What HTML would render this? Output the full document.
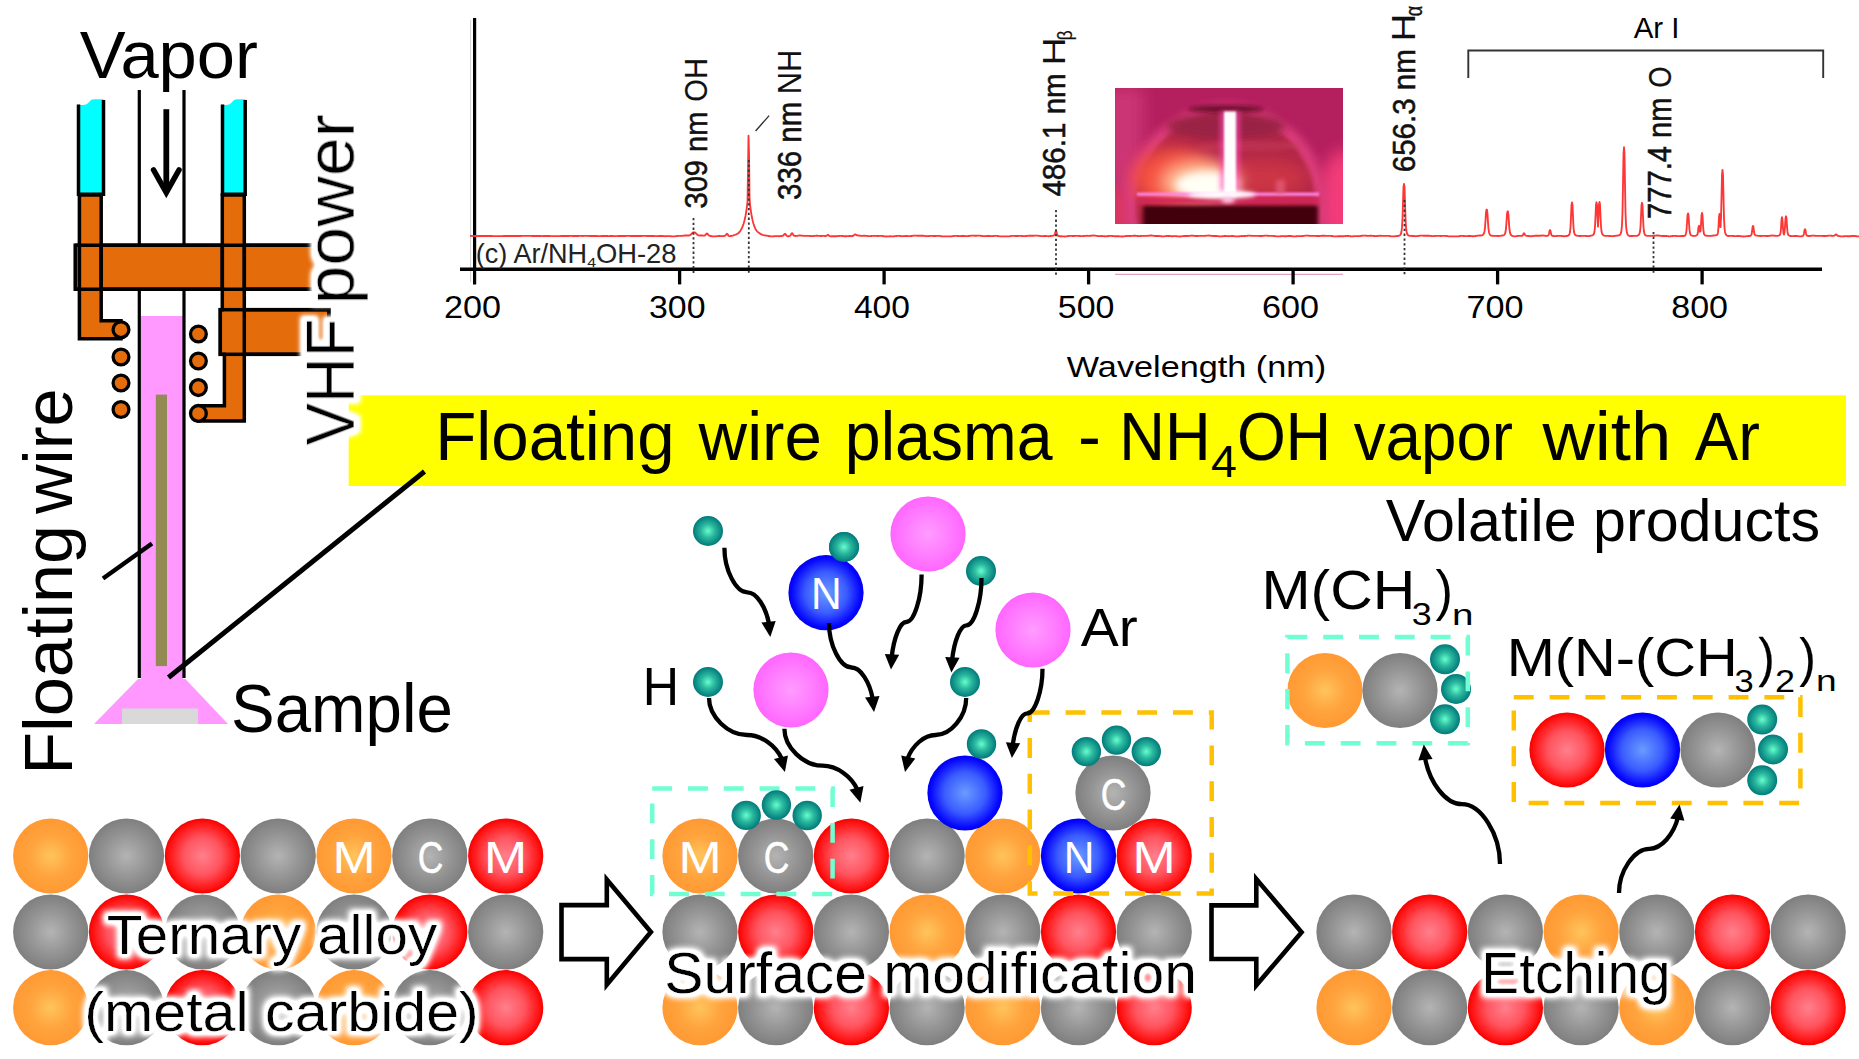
<!DOCTYPE html>
<html><head><meta charset="utf-8"><title>Floating wire plasma</title>
<style>html,body{margin:0;padding:0;background:#fff;overflow:hidden}svg{display:block}text{font-family:"Liberation Sans",sans-serif}</style>
</head><body>
<svg width="1859" height="1059" viewBox="0 0 1859 1059">
<defs>
<radialGradient id="gO"><stop offset="0" stop-color="#FFC45C"/><stop offset="0.55" stop-color="#FFA43E"/><stop offset="1" stop-color="#FF9933"/></radialGradient>
<radialGradient id="gG"><stop offset="0" stop-color="#B4B4B4"/><stop offset="0.6" stop-color="#939393"/><stop offset="1" stop-color="#7F7F7F"/></radialGradient>
<radialGradient id="gR"><stop offset="0" stop-color="#FF808C"/><stop offset="0.5" stop-color="#FF5560"/><stop offset="0.88" stop-color="#FF1414"/><stop offset="1" stop-color="#F60000"/></radialGradient>
<radialGradient id="gB"><stop offset="0" stop-color="#6A9CFF"/><stop offset="0.55" stop-color="#3A5CFF"/><stop offset="0.92" stop-color="#0606FF"/><stop offset="1" stop-color="#0000F0"/></radialGradient>
<radialGradient id="gP"><stop offset="0" stop-color="#FF9CFF"/><stop offset="0.6" stop-color="#FF7CFF"/><stop offset="1" stop-color="#FF66FF"/></radialGradient>
<radialGradient id="gT"><stop offset="0" stop-color="#66FFCC"/><stop offset="0.45" stop-color="#2BB89F"/><stop offset="1" stop-color="#007A7A"/></radialGradient>
<filter id="gl" x="-10%" y="-40%" width="120%" height="180%"><feGaussianBlur stdDeviation="2.6"/></filter>
<filter id="halo" x="-10%" y="-45%" width="120%" height="190%"><feMorphology in="SourceAlpha" operator="dilate" radius="4.2" result="d"/><feGaussianBlur in="d" stdDeviation="3.1" result="b"/><feFlood flood-color="#fff" result="w"/><feComposite in="w" in2="b" operator="in" result="h"/><feComponentTransfer in="h" result="h2"><feFuncA type="linear" slope="1.6"/></feComponentTransfer><feMerge><feMergeNode in="h2"/><feMergeNode in="SourceGraphic"/></feMerge></filter>
<filter id="halo2" x="-10%" y="-45%" width="120%" height="190%"><feMorphology in="SourceAlpha" operator="dilate" radius="5.8" result="d"/><feGaussianBlur in="d" stdDeviation="2.8" result="b"/><feFlood flood-color="#fff" result="w"/><feComposite in="w" in2="b" operator="in" result="h"/><feComponentTransfer in="h" result="h2"><feFuncA type="linear" slope="1.6"/></feComponentTransfer><feMerge><feMergeNode in="h2"/><feMergeNode in="SourceGraphic"/></feMerge></filter>
<filter id="b1" x="-50%" y="-50%" width="200%" height="200%"><feGaussianBlur stdDeviation="1"/></filter>
<filter id="b2" x="-50%" y="-50%" width="200%" height="200%"><feGaussianBlur stdDeviation="2"/></filter>
<filter id="b4" x="-50%" y="-50%" width="200%" height="200%"><feGaussianBlur stdDeviation="4"/></filter>
<filter id="b8" x="-60%" y="-60%" width="220%" height="220%"><feGaussianBlur stdDeviation="8"/></filter>
<clipPath id="pc"><rect x="1115" y="88" width="228" height="136"/></clipPath>
</defs>
<rect width="1859" height="1059" fill="#fff"/>

<g id="apparatus">
<path d="M78.5 104.5 Q86 106.5 89.5 101.5 Q91 99.3 94 99.3 H103.5 V194 H78.5 Z" fill="#00FFFF"/>
<path d="M222.5 104.5 Q229 106.5 232.5 101.5 Q234 99.3 237 99.3 H245.5 V194 H222.5 Z" fill="#00FFFF"/>
<path d="M78.5 104.5 V194.3 H103.5 V100" fill="none" stroke="#000" stroke-width="3.5"/>
<path d="M222.5 104.5 V194.3 H245.2 V100" fill="none" stroke="#000" stroke-width="3.5"/>
<path d="M139.3 90 V245 M184 90 V245" stroke="#000" stroke-width="3.2" fill="none"/>
<path d="M166.3 109.2 V191" stroke="#000" stroke-width="5.8" fill="none"/><path d="M153.6 170 L166.3 192.6 L179 170" stroke="#000" stroke-width="5.6" fill="none" stroke-linejoin="miter" stroke-linecap="round"/>
<rect x="75.2" y="245.2" width="244" height="44" fill="#E46C0A" stroke="#000" stroke-width="3.5"/>
<rect x="220.3" y="309.7" width="108.5" height="44.6" fill="#E46C0A" stroke="#000" stroke-width="3.5"/>
<rect x="141" y="316" width="42" height="364" fill="#FF99FF"/>
<polygon points="138,679 185.4,679 228,724 94,724" fill="#FF99FF"/>
<rect x="122" y="708.5" width="76" height="15.5" fill="#D9D9D9"/>
<rect x="155.8" y="394.6" width="11.2" height="271.5" fill="#948A54"/>
<path d="M139.3 290 V678 M184 290 V678" stroke="#000" stroke-width="3.2" fill="none"/>
<path d="M79.4 195 V338.8 H121 V320.8 H101.2 V195 Z" fill="#E46C0A" stroke="#000" stroke-width="3.5" stroke-linejoin="miter"/>
<path d="M244.3 195 V421 H198.4 V405.8 H224.4 V332 H222.3 V195 Z" fill="#E46C0A" stroke="#000" stroke-width="3.5"/>
<rect x="222" y="311.4" width="6" height="41.2" fill="#E46C0A"/>
<rect x="220.3" y="309.7" width="108.5" height="44.6" fill="none" stroke="#000" stroke-width="3.5"/>
<path d="M75.2 245.2 H319 M75.2 289.2 H319" stroke="#000" stroke-width="3.5" fill="none"/>
<path d="M222.3 245 V290 M244.3 245 V290 M101.2 245 V290" stroke="#000" stroke-width="3.5" fill="none"/>
<circle cx="121" cy="329.7" r="7.9" fill="#E46C0A" stroke="#000" stroke-width="3.3"/>
<circle cx="121" cy="357" r="7.9" fill="#E46C0A" stroke="#000" stroke-width="3.3"/>
<circle cx="121" cy="383" r="7.9" fill="#E46C0A" stroke="#000" stroke-width="3.3"/>
<circle cx="121" cy="409.5" r="7.9" fill="#E46C0A" stroke="#000" stroke-width="3.3"/>
<circle cx="198.4" cy="334" r="7.9" fill="#E46C0A" stroke="#000" stroke-width="3.3"/>
<circle cx="198.4" cy="361" r="7.9" fill="#E46C0A" stroke="#000" stroke-width="3.3"/>
<circle cx="198.4" cy="387.6" r="7.9" fill="#E46C0A" stroke="#000" stroke-width="3.3"/>
<circle cx="198.4" cy="413.4" r="7.9" fill="#E46C0A" stroke="#000" stroke-width="3.3"/>
<path d="M103 578.5 L152 543.5" stroke="#000" stroke-width="4.5" fill="none"/>
</g>
<rect x="348.7" y="395.3" width="1497.3" height="90.7" fill="#FFFF00"/>
<path d="M168.5 677.5 L424.5 471.5" stroke="#000" stroke-width="5" fill="none"/>
<text transform="translate(435.15,460.40) scale(0.9931,1)" font-size="67.78" textLength="241.15" fill="#000"  >Floating</text>
<text transform="translate(698.60,460.40) scale(0.9923,1)" font-size="67.78" textLength="124.28" fill="#000"  >wire</text>
<text transform="translate(844.81,460.40) scale(0.9508,1)" font-size="67.78" textLength="218.51" fill="#000"  >plasma</text>
<text transform="translate(1077.90,460.40) scale(1.0160,1)" font-size="67.78"  fill="#000"  >-</text>
<text transform="translate(1119.29,460.40) scale(0.9324,1)" font-size="67.78" textLength="97.90" fill="#000" stroke="#000" stroke-width="0.14" >NH</text>
<text transform="translate(1237.02,460.40) scale(0.9261,1)" font-size="67.78" textLength="101.68" fill="#000" stroke="#000" stroke-width="0.17" >OH</text>
<text transform="translate(1353.68,460.40) scale(0.9399,1)" font-size="67.78" textLength="169.56" fill="#000"  >vapor</text>
<text transform="translate(1542.40,460.40) scale(1.0700,1)" font-size="67.78" textLength="120.54" fill="#000"  >with</text>
<text transform="translate(1694.84,460.40) scale(0.9610,1)" font-size="67.78" textLength="67.78" fill="#000"  >Ar</text>
<text transform="translate(1210.95,477.00) scale(1.0664,1)" font-size="43.64"  fill="#000"  >4</text>
<text transform="translate(79.66,78.00) scale(1.0273,1)" font-size="66.91" textLength="173.58" fill="#000"  >Vapor</text>
<g transform="translate(353.8,445) rotate(-90)"><text transform="translate(-0.32,0.00) scale(0.9180,1)" font-size="69.09" textLength="138.18" fill="#000"  filter="url(#halo2)">VHF</text><text transform="translate(140.56,0.00) scale(1.0111,1)" font-size="69.09" textLength="188.18" fill="#000"  filter="url(#halo2)">power</text></g>
<g transform="translate(71.8,769) rotate(-90)"><text transform="translate(-5.80,0.00) scale(1.0214,1)" font-size="68.80" textLength="244.77" fill="#000"  >Floating</text><text transform="translate(255.00,0.00) scale(0.9963,1)" font-size="68.80" textLength="126.15" fill="#000"  >wire</text></g>
<text transform="translate(231.06,732.00) scale(0.9567,1)" font-size="68.36" textLength="231.80" fill="#000"  >Sample</text>
<g id="chart">
<g clip-path="url(#pc)">
<rect x="1115" y="88" width="228" height="136" fill="#B41F5E"/>
<rect x="1105" y="88" width="38" height="136" fill="#CC3474" filter="url(#b8)"/>
<ellipse cx="1345" cy="205" rx="28" ry="55" fill="#F23A78" filter="url(#b8)"/>
<ellipse cx="1113" cy="215" rx="16" ry="28" fill="#DA3462" filter="url(#b4)"/>
<ellipse cx="1226" cy="206" rx="101" ry="102" fill="#DC3C7C" filter="url(#b4)"/>
<ellipse cx="1226" cy="208" rx="90" ry="95" fill="#B22846" filter="url(#b2)"/>
<ellipse cx="1226" cy="126" rx="60" ry="13" fill="#9A2044" filter="url(#b4)"/>
<ellipse cx="1250" cy="146" rx="52" ry="5" fill="#C43A58" opacity="0.6" filter="url(#b2)"/>
<ellipse cx="1262" cy="178" rx="46" ry="18" fill="#CC3444" filter="url(#b8)"/>
<ellipse cx="1174" cy="178" rx="42" ry="30" fill="#F45040" filter="url(#b8)"/>
<ellipse cx="1200" cy="182" rx="40" ry="22" fill="#FFB890" filter="url(#b8)"/>
<ellipse cx="1207" cy="185" rx="32" ry="14" fill="#FFFFF6" filter="url(#b4)"/>
<ellipse cx="1226" cy="109" rx="38" ry="4" fill="#70102E" filter="url(#b2)"/>
<rect x="1219.5" y="111" width="21" height="84" fill="#FF48B8" opacity="0.55" filter="url(#b2)"/>
<rect x="1224" y="111.5" width="12" height="86" fill="#FFFFFF" filter="url(#b1)"/>
<rect x="1143" y="205" width="175" height="30" fill="#43000F" filter="url(#b2)"/>
<rect x="1138" y="197" width="182" height="7" fill="#D42658" filter="url(#b2)"/>
<rect x="1137" y="192.6" width="182" height="3.2" fill="#FF86E6" filter="url(#b1)"/>
<ellipse cx="1222" cy="194.5" rx="34" ry="4" fill="#FFFFFF" filter="url(#b2)"/>
<ellipse cx="1228" cy="200" rx="7" ry="3" fill="#FFD0F0" filter="url(#b2)"/>
<rect x="1276" y="180" width="9" height="14" fill="#E86080" opacity="0.7" filter="url(#b2)"/>
</g>
<path d="M1115 274.3 H1343" stroke="#D070A0" stroke-width="0.8"/>
<path d="M474.6 18 V284.4" stroke="#000" stroke-width="3.2"/>
<path d="M470.6 20 V282" stroke="#c4c4c4" stroke-width="0.8"/>
<path d="M460 269.3 H1822" stroke="#000" stroke-width="3.4"/>
<path d="M679.6 268 V284.4" stroke="#000" stroke-width="3.3"/>
<path d="M884.1 268 V284.4" stroke="#000" stroke-width="3.3"/>
<path d="M1088.6 268 V284.4" stroke="#000" stroke-width="3.3"/>
<path d="M1293.1 268 V284.4" stroke="#000" stroke-width="3.3"/>
<path d="M1497.6 268 V284.4" stroke="#000" stroke-width="3.3"/>
<path d="M1702.1 268 V284.4" stroke="#000" stroke-width="3.3"/>
<polyline points="470.0,235.9 470.5,235.9 471.0,235.9 471.5,235.9 472.0,235.9 472.5,235.9 473.0,235.9 473.5,235.9 474.0,235.9 474.5,236.0 475.0,236.0 475.5,236.0 476.0,236.0 476.5,236.0 477.0,236.0 477.5,236.1 478.0,236.1 478.5,236.0 479.0,236.0 479.5,236.0 480.0,236.0 480.5,236.0 481.0,236.0 481.5,236.0 482.0,236.0 482.5,236.0 483.0,236.0 483.5,236.0 484.0,236.0 484.5,236.0 485.0,236.0 485.5,236.0 486.0,236.0 486.5,236.0 487.0,236.0 487.5,236.0 488.0,236.0 488.5,236.0 489.0,236.0 489.5,236.0 490.0,236.0 490.5,236.0 491.0,236.0 491.5,236.0 492.0,236.0 492.5,236.1 493.0,236.1 493.5,236.1 494.0,236.1 494.5,236.1 495.0,236.1 495.5,236.1 496.0,236.1 496.5,236.1 497.0,236.1 497.5,236.1 498.0,236.1 498.5,236.1 499.0,236.1 499.5,236.1 500.0,236.1 500.5,236.1 501.0,236.1 501.5,236.1 502.0,236.1 502.5,236.1 503.0,236.1 503.5,236.0 504.0,236.0 504.5,236.0 505.0,236.0 505.5,236.0 506.0,236.0 506.5,235.9 507.0,236.0 507.5,236.0 508.0,236.0 508.5,236.0 509.0,236.0 509.5,236.0 510.0,236.0 510.5,236.0 511.0,236.0 511.5,236.0 512.0,236.0 512.5,236.0 513.0,236.0 513.5,236.0 514.0,236.0 514.5,236.0 515.0,236.0 515.5,236.0 516.0,236.0 516.5,236.0 517.0,236.0 517.5,236.0 518.0,236.0 518.5,236.0 519.0,236.0 519.5,236.0 520.0,236.0 520.5,236.0 521.0,236.0 521.5,235.9 522.0,235.9 522.5,235.9 523.0,235.9 523.5,235.9 524.0,235.9 524.5,235.9 525.0,235.9 525.5,235.9 526.0,235.9 526.5,235.9 527.0,235.9 527.5,235.9 528.0,235.9 528.5,235.9 529.0,235.9 529.5,235.9 530.0,235.9 530.5,235.9 531.0,235.9 531.5,235.9 532.0,236.0 532.5,236.0 533.0,236.0 533.5,236.0 534.0,236.0 534.5,236.0 535.0,236.0 535.5,236.0 536.0,236.0 536.5,236.0 537.0,236.0 537.5,236.0 538.0,236.0 538.5,236.0 539.0,236.0 539.5,236.0 540.0,236.0 540.5,236.0 541.0,236.0 541.5,236.1 542.0,236.1 542.5,236.1 543.0,236.1 543.5,236.0 544.0,236.0 544.5,236.0 545.0,236.0 545.5,236.0 546.0,236.0 546.5,236.0 547.0,236.0 547.5,236.0 548.0,236.0 548.5,236.0 549.0,236.0 549.5,236.0 550.0,236.1 550.5,236.1 551.0,236.1 551.5,236.1 552.0,236.1 552.5,236.1 553.0,236.1 553.5,236.1 554.0,236.1 554.5,236.1 555.0,236.1 555.5,236.1 556.0,236.1 556.5,236.1 557.0,236.1 557.5,236.1 558.0,236.1 558.5,236.1 559.0,236.1 559.5,236.1 560.0,236.1 560.5,236.1 561.0,236.0 561.5,236.0 562.0,236.0 562.5,236.0 563.0,236.0 563.5,236.0 564.0,236.0 564.5,236.0 565.0,236.0 565.5,236.0 566.0,236.0 566.5,236.0 567.0,236.0 567.5,236.0 568.0,236.0 568.5,236.0 569.0,236.0 569.5,235.9 570.0,235.9 570.5,235.9 571.0,235.9 571.5,235.9 572.0,235.9 572.5,236.0 573.0,236.0 573.5,236.0 574.0,236.0 574.5,236.0 575.0,236.0 575.5,236.0 576.0,236.0 576.5,236.0 577.0,236.0 577.5,236.0 578.0,236.0 578.5,236.0 579.0,235.9 579.5,235.9 580.0,235.9 580.5,235.9 581.0,235.9 581.5,235.9 582.0,235.9 582.5,236.0 583.0,236.0 583.5,235.9 584.0,235.9 584.5,235.9 585.0,235.9 585.5,235.9 586.0,235.9 586.5,235.9 587.0,235.9 587.5,235.9 588.0,235.9 588.5,235.9 589.0,235.9 589.5,236.0 590.0,236.0 590.5,236.0 591.0,236.0 591.5,236.0 592.0,236.0 592.5,236.0 593.0,236.0 593.5,236.0 594.0,236.0 594.5,236.0 595.0,236.0 595.5,236.0 596.0,236.0 596.5,236.0 597.0,236.0 597.5,236.1 598.0,236.1 598.5,236.1 599.0,236.1 599.5,236.1 600.0,236.1 600.5,236.1 601.0,236.1 601.5,236.0 602.0,236.0 602.5,236.0 603.0,236.0 603.5,236.0 604.0,236.0 604.5,236.0 605.0,236.0 605.5,236.0 606.0,236.0 606.5,236.0 607.0,236.0 607.5,236.0 608.0,236.1 608.5,236.1 609.0,236.1 609.5,236.1 610.0,236.0 610.5,236.0 611.0,236.0 611.5,236.0 612.0,236.0 612.5,236.0 613.0,236.1 613.5,236.1 614.0,236.1 614.5,236.1 615.0,236.1 615.5,236.1 616.0,236.1 616.5,236.1 617.0,236.1 617.5,236.1 618.0,236.1 618.5,236.0 619.0,236.0 619.5,236.0 620.0,236.0 620.5,236.0 621.0,236.0 621.5,236.0 622.0,236.0 622.5,236.0 623.0,236.0 623.5,236.0 624.0,236.0 624.5,236.0 625.0,236.0 625.5,236.0 626.0,235.9 626.5,235.9 627.0,235.9 627.5,235.9 628.0,235.9 628.5,235.9 629.0,235.9 629.5,235.9 630.0,235.9 630.5,236.0 631.0,236.0 631.5,236.0 632.0,236.0 632.5,236.0 633.0,236.0 633.5,236.0 634.0,236.0 634.5,236.0 635.0,236.0 635.5,236.0 636.0,236.0 636.5,236.0 637.0,236.0 637.5,236.0 638.0,236.0 638.5,236.0 639.0,236.0 639.5,236.0 640.0,236.0 640.5,236.0 641.0,236.0 641.5,236.0 642.0,235.9 642.5,235.9 643.0,235.9 643.5,235.9 644.0,235.9 644.5,235.9 645.0,235.9 645.5,235.9 646.0,235.9 646.5,235.9 647.0,236.0 647.5,236.0 648.0,236.0 648.5,236.0 649.0,236.0 649.5,236.0 650.0,236.0 650.5,236.0 651.0,236.0 651.5,236.0 652.0,236.0 652.5,236.0 653.0,236.0 653.5,236.0 654.0,236.0 654.5,236.1 655.0,236.1 655.5,236.1 656.0,236.1 656.5,236.1 657.0,236.1 657.5,236.1 658.0,236.1 658.5,236.1 659.0,236.0 659.5,236.0 660.0,236.1 660.5,236.0 661.0,236.0 661.5,236.0 662.0,236.0 662.5,236.0 663.0,236.0 663.5,236.1 664.0,236.1 664.5,236.1 665.0,236.2 665.5,236.2 666.0,236.2 666.5,236.1 667.0,236.1 667.5,236.1 668.0,236.1 668.5,236.1 669.0,236.1 669.5,236.1 670.0,236.1 670.5,236.2 671.0,236.2 671.5,236.3 672.0,236.4 672.5,236.4 673.0,236.4 673.5,236.4 674.0,236.4 674.5,236.3 675.0,236.3 675.5,236.2 676.0,236.1 676.5,236.1 677.0,236.0 677.5,236.0 678.0,235.9 678.5,235.9 679.0,235.9 679.5,235.9 680.0,235.9 680.5,235.9 681.0,235.9 681.5,235.9 682.0,235.8 682.5,235.8 683.0,235.7 683.5,235.7 684.0,235.6 684.5,235.5 685.0,235.5 685.5,235.5 686.0,235.5 686.5,235.5 687.0,235.5 687.5,235.5 688.0,235.6 688.5,235.5 689.0,235.5 689.5,235.4 690.0,235.2 690.5,234.9 691.0,234.5 691.5,233.9 692.0,233.3 692.5,232.8 693.0,232.5 693.5,232.4 694.0,232.3 694.5,232.4 695.0,232.5 695.5,232.8 696.0,233.4 696.5,233.9 697.0,234.5 697.5,234.9 698.0,235.1 698.5,235.3 699.0,235.4 699.5,235.5 700.0,235.5 700.5,235.5 701.0,235.5 701.5,235.5 702.0,235.5 702.5,235.5 703.0,235.6 703.5,235.6 704.0,235.6 704.5,235.5 705.0,235.4 705.5,235.0 706.0,234.2 706.5,233.6 707.0,233.5 707.5,233.7 708.0,234.3 708.5,235.0 709.0,235.5 709.5,235.8 710.0,235.9 710.5,236.0 711.0,236.1 711.5,236.2 712.0,236.2 712.5,236.3 713.0,236.4 713.5,236.4 714.0,236.4 714.5,236.4 715.0,236.4 715.5,236.3 716.0,236.3 716.5,236.2 717.0,236.2 717.5,236.1 718.0,236.1 718.5,236.0 719.0,236.0 719.5,236.0 720.0,236.0 720.5,236.1 721.0,236.1 721.5,236.1 722.0,236.1 722.5,236.1 723.0,236.1 723.5,236.1 724.0,236.0 724.5,235.9 725.0,235.7 725.5,235.4 726.0,234.7 726.5,234.0 727.0,233.8 727.5,234.1 728.0,234.9 728.5,235.6 729.0,236.0 729.5,236.1 730.0,236.1 730.5,236.0 731.0,236.0 731.5,235.9 732.0,235.8 732.5,235.7 733.0,235.5 733.5,235.3 734.0,235.2 734.5,235.0 735.0,234.8 735.5,234.7 736.0,234.5 736.5,234.2 737.0,234.0 737.5,233.7 738.0,233.4 738.5,233.0 739.0,232.5 739.5,231.9 740.0,231.3 740.5,230.6 741.0,229.8 741.5,228.9 742.0,227.8 742.5,226.7 743.0,225.4 743.5,224.0 744.0,222.3 744.5,220.5 745.0,218.3 745.5,215.9 746.0,213.1 746.5,209.8 747.0,206.1 747.5,201.8 748.0,171.7 748.5,135.6 749.0,152.3 749.5,196.7 750.0,204.3 750.5,208.3 751.0,211.8 751.5,214.9 752.0,217.5 752.5,219.9 753.0,222.0 753.5,223.8 754.0,225.3 754.5,226.7 755.0,227.9 755.5,228.9 756.0,229.7 756.5,230.5 757.0,231.1 757.5,231.6 758.0,232.1 758.5,232.5 759.0,232.9 759.5,233.2 760.0,233.6 760.5,233.9 761.0,234.1 761.5,234.4 762.0,234.6 762.5,234.8 763.0,235.0 763.5,235.2 764.0,235.3 764.5,235.4 765.0,235.4 765.5,235.5 766.0,235.6 766.5,235.6 767.0,235.7 767.5,235.8 768.0,235.9 768.5,236.0 769.0,236.1 769.5,236.2 770.0,236.2 770.5,236.3 771.0,236.4 771.5,236.4 772.0,236.4 772.5,236.4 773.0,236.3 773.5,236.3 774.0,236.2 774.5,236.2 775.0,236.1 775.5,236.1 776.0,236.1 776.5,236.1 777.0,236.1 777.5,236.1 778.0,236.1 778.5,236.2 779.0,236.2 779.5,236.2 780.0,236.1 780.5,236.1 781.0,236.0 781.5,236.0 782.0,235.9 782.5,235.8 783.0,235.7 783.5,235.3 784.0,234.7 784.5,234.0 785.0,233.8 785.5,234.1 786.0,234.9 786.5,235.6 787.0,236.0 787.5,236.2 788.0,236.2 788.5,236.2 789.0,236.2 789.5,236.1 790.0,235.8 790.5,235.4 791.0,234.5 791.5,233.5 792.0,233.2 792.5,233.4 793.0,234.4 793.5,235.3 794.0,235.7 794.5,235.9 795.0,235.9 795.5,236.0 796.0,235.9 796.5,235.9 797.0,235.8 797.5,235.8 798.0,235.7 798.5,235.6 799.0,235.6 799.5,235.5 800.0,235.5 800.5,235.5 801.0,235.6 801.5,235.6 802.0,235.6 802.5,235.7 803.0,235.8 803.5,235.8 804.0,235.8 804.5,235.8 805.0,235.9 805.5,235.8 806.0,235.8 806.5,235.8 807.0,235.8 807.5,235.8 808.0,235.8 808.5,235.8 809.0,235.9 809.5,235.9 810.0,236.0 810.5,236.0 811.0,236.1 811.5,236.1 812.0,236.1 812.5,236.1 813.0,236.0 813.5,236.0 814.0,235.9 814.5,235.9 815.0,235.8 815.5,235.8 816.0,235.7 816.5,235.7 817.0,235.7 817.5,235.7 818.0,235.8 818.5,235.8 819.0,235.9 819.5,235.9 820.0,235.9 820.5,236.0 821.0,236.0 821.5,236.0 822.0,235.9 822.5,235.9 823.0,235.9 823.5,235.9 824.0,235.9 824.5,235.9 825.0,236.0 825.5,236.0 826.0,236.0 826.5,235.8 827.0,235.5 827.5,235.0 828.0,234.9 828.5,235.1 829.0,235.6 829.5,236.1 830.0,236.2 830.5,236.3 831.0,236.3 831.5,236.2 832.0,236.2 832.5,236.2 833.0,236.2 833.5,236.2 834.0,236.2 834.5,236.2 835.0,236.2 835.5,236.2 836.0,236.2 836.5,236.2 837.0,236.2 837.5,236.1 838.0,236.1 838.5,236.0 839.0,236.0 839.5,235.9 840.0,235.9 840.5,235.9 841.0,235.9 841.5,235.9 842.0,236.0 842.5,236.0 843.0,236.1 843.5,236.1 844.0,236.2 844.5,236.2 845.0,236.2 845.5,236.2 846.0,236.2 846.5,236.2 847.0,236.2 847.5,236.1 848.0,236.1 848.5,236.1 849.0,236.0 849.5,236.0 850.0,236.0 850.5,236.0 851.0,236.1 851.5,236.1 852.0,236.0 852.5,236.0 853.0,235.9 853.5,235.6 854.0,235.1 854.5,234.5 855.0,234.3 855.5,234.3 856.0,234.8 856.5,235.2 857.0,235.4 857.5,235.4 858.0,235.5 858.5,235.5 859.0,235.6 859.5,235.6 860.0,235.7 860.5,235.7 861.0,235.8 861.5,235.8 862.0,235.8 862.5,235.8 863.0,235.8 863.5,235.7 864.0,235.7 864.5,235.7 865.0,235.7 865.5,235.8 866.0,235.8 866.5,235.9 867.0,235.9 867.5,236.0 868.0,236.1 868.5,236.1 869.0,236.1 869.5,236.1 870.0,236.1 870.5,236.1 871.0,236.0 871.5,236.0 872.0,235.9 872.5,235.9 873.0,235.8 873.5,235.8 874.0,235.8 874.5,235.8 875.0,235.8 875.5,235.9 876.0,235.9 876.5,235.9 877.0,236.0 877.5,236.0 878.0,236.0 878.5,236.0 879.0,235.9 879.5,235.9 880.0,235.9 880.5,235.9 881.0,235.9 881.5,235.9 882.0,235.9 882.5,236.0 883.0,236.1 883.5,236.2 884.0,236.2 884.5,236.3 885.0,236.4 885.5,236.4 886.0,236.5 886.5,236.5 887.0,236.4 887.5,236.4 888.0,236.4 888.5,236.3 889.0,236.3 889.5,236.3 890.0,236.2 890.5,236.2 891.0,236.3 891.5,236.3 892.0,236.3 892.5,236.3 893.0,236.3 893.5,236.3 894.0,236.3 894.5,236.2 895.0,236.2 895.5,236.1 896.0,236.0 896.5,236.0 897.0,235.9 897.5,235.9 898.0,235.9 898.5,235.9 899.0,235.9 899.5,235.9 900.0,236.0 900.5,236.0 901.0,236.1 901.5,236.1 902.0,236.2 902.5,236.2 903.0,236.2 903.5,236.1 904.0,236.1 904.5,236.1 905.0,236.0 905.5,236.0 906.0,236.0 906.5,236.0 907.0,236.0 907.5,236.1 908.0,236.1 908.5,236.1 909.0,236.1 909.5,236.1 910.0,236.1 910.5,236.1 911.0,236.0 911.5,236.0 912.0,235.9 912.5,235.8 913.0,235.7 913.5,235.7 914.0,235.6 914.5,235.6 915.0,235.6 915.5,235.6 916.0,235.6 916.5,235.6 917.0,235.7 917.5,235.7 918.0,235.7 918.5,235.7 919.0,235.7 919.5,235.7 920.0,235.7 920.5,235.7 921.0,235.7 921.5,235.7 922.0,235.7 922.5,235.7 923.0,235.7 923.5,235.8 924.0,235.9 924.5,235.9 925.0,236.0 925.5,236.1 926.0,236.1 926.5,236.2 927.0,236.2 927.5,236.1 928.0,236.1 928.5,236.1 929.0,236.0 929.5,236.0 930.0,235.9 930.5,235.9 931.0,235.9 931.5,235.9 932.0,235.9 932.5,235.9 933.0,236.0 933.5,236.0 934.0,236.0 934.5,236.0 935.0,236.0 935.5,236.0 936.0,236.0 936.5,235.9 937.0,235.9 937.5,235.9 938.0,235.9 938.5,235.9 939.0,235.9 939.5,235.9 940.0,236.0 940.5,236.1 941.0,236.2 941.5,236.2 942.0,236.3 942.5,236.4 943.0,236.4 943.5,236.4 944.0,236.4 944.5,236.4 945.0,236.4 945.5,236.3 946.0,236.3 946.5,236.3 947.0,236.3 947.5,236.3 948.0,236.3 948.5,236.3 949.0,236.3 949.5,236.4 950.0,236.4 950.5,236.4 951.0,236.3 951.5,236.3 952.0,236.2 952.5,236.2 953.0,236.1 953.5,236.0 954.0,235.9 954.5,235.9 955.0,235.9 955.5,235.8 956.0,235.8 956.5,235.9 957.0,235.9 957.5,236.0 958.0,236.0 958.5,236.0 959.0,236.1 959.5,236.1 960.0,236.1 960.5,236.1 961.0,236.0 961.5,236.0 962.0,236.0 962.5,236.0 963.0,235.9 963.5,236.0 964.0,236.0 964.5,236.0 965.0,236.1 965.5,236.1 966.0,236.1 966.5,236.2 967.0,236.2 967.5,236.1 968.0,236.1 968.5,236.0 969.0,236.0 969.5,235.9 970.0,235.8 970.5,235.7 971.0,235.7 971.5,235.6 972.0,235.6 972.5,235.6 973.0,235.6 973.5,235.6 974.0,235.7 974.5,235.7 975.0,235.7 975.5,235.7 976.0,235.7 976.5,235.7 977.0,235.7 977.5,235.6 978.0,235.6 978.5,235.6 979.0,235.6 979.5,235.6 980.0,235.7 980.5,235.7 981.0,235.8 981.5,235.9 982.0,235.9 982.5,236.0 983.0,236.1 983.5,236.1 984.0,236.2 984.5,236.2 985.0,236.1 985.5,236.1 986.0,236.1 986.5,236.0 987.0,236.0 987.5,236.0 988.0,236.0 988.5,236.0 989.0,236.0 989.5,236.0 990.0,236.0 990.5,236.1 991.0,236.1 991.5,236.1 992.0,236.1 992.5,236.1 993.0,236.0 993.5,236.0 994.0,235.9 994.5,235.9 995.0,235.9 995.5,235.8 996.0,235.9 996.5,235.9 997.0,235.9 997.5,236.0 998.0,236.1 998.5,236.1 999.0,236.2 999.5,236.3 1000.0,236.3 1000.5,236.3 1001.0,236.4 1001.5,236.3 1002.0,236.3 1002.5,236.3 1003.0,236.3 1003.5,236.3 1004.0,236.3 1004.5,236.3 1005.0,236.3 1005.5,236.3 1006.0,236.4 1006.5,236.4 1007.0,236.4 1007.5,236.4 1008.0,236.4 1008.5,236.4 1009.0,236.3 1009.5,236.3 1010.0,236.2 1010.5,236.1 1011.0,236.0 1011.5,235.9 1012.0,235.9 1012.5,235.9 1013.0,235.9 1013.5,235.9 1014.0,235.9 1014.5,235.9 1015.0,235.9 1015.5,236.0 1016.0,236.0 1016.5,236.0 1017.0,236.0 1017.5,236.0 1018.0,236.0 1018.5,235.9 1019.0,235.9 1019.5,235.9 1020.0,235.9 1020.5,235.9 1021.0,235.9 1021.5,235.9 1022.0,236.0 1022.5,236.0 1023.0,236.1 1023.5,236.1 1024.0,236.1 1024.5,236.2 1025.0,236.1 1025.5,236.1 1026.0,236.0 1026.5,236.0 1027.0,235.9 1027.5,235.8 1028.0,235.8 1028.5,235.7 1029.0,235.7 1029.5,235.7 1030.0,235.7 1030.5,235.7 1031.0,235.7 1031.5,235.7 1032.0,235.7 1032.5,235.7 1033.0,235.7 1033.5,235.7 1034.0,235.7 1034.5,235.6 1035.0,235.6 1035.5,235.6 1036.0,235.6 1036.5,235.6 1037.0,235.6 1037.5,235.6 1038.0,235.7 1038.5,235.8 1039.0,235.9 1039.5,235.9 1040.0,236.0 1040.5,236.1 1041.0,236.1 1041.5,236.1 1042.0,236.1 1042.5,236.1 1043.0,236.1 1043.5,236.1 1044.0,236.0 1044.5,236.0 1045.0,236.0 1045.5,236.0 1046.0,236.0 1046.5,236.1 1047.0,236.1 1047.5,236.1 1048.0,236.2 1048.5,236.2 1049.0,236.2 1049.5,236.1 1050.0,236.1 1050.5,236.0 1051.0,236.0 1051.5,235.9 1052.0,235.8 1052.5,235.8 1053.0,235.7 1053.5,235.6 1054.0,235.4 1054.5,234.9 1055.0,233.5 1055.5,231.6 1056.0,231.1 1056.5,231.7 1057.0,233.8 1057.5,235.2 1058.0,235.8 1058.5,236.0 1059.0,236.1 1059.5,236.2 1060.0,236.2 1060.5,236.2 1061.0,236.2 1061.5,236.2 1062.0,236.3 1062.5,236.3 1063.0,236.3 1063.5,236.4 1064.0,236.4 1064.5,236.5 1065.0,236.5 1065.5,236.4 1066.0,236.4 1066.5,236.3 1067.0,236.3 1067.5,236.2 1068.0,236.1 1068.5,236.0 1069.0,236.0 1069.5,235.9 1070.0,235.9 1070.5,235.9 1071.0,235.9 1071.5,235.9 1072.0,235.9 1072.5,236.0 1073.0,236.0 1073.5,236.0 1074.0,236.0 1074.5,235.9 1075.0,235.9 1075.5,235.9 1076.0,235.8 1076.5,235.8 1077.0,235.8 1077.5,235.8 1078.0,235.8 1078.5,235.8 1079.0,235.9 1079.5,236.0 1080.0,236.0 1080.5,236.1 1081.0,236.1 1081.5,236.1 1082.0,236.1 1082.5,236.1 1083.0,236.1 1083.5,236.0 1084.0,236.0 1084.5,235.9 1085.0,235.8 1085.5,235.8 1086.0,235.8 1086.5,235.7 1087.0,235.7 1087.5,235.8 1088.0,235.8 1088.5,235.8 1089.0,235.8 1089.5,235.8 1090.0,235.8 1090.5,235.7 1091.0,235.7 1091.5,235.7 1092.0,235.6 1092.5,235.6 1093.0,235.5 1093.5,235.5 1094.0,235.5 1094.5,235.6 1095.0,235.6 1095.5,235.7 1096.0,235.8 1096.5,235.9 1097.0,235.9 1097.5,236.0 1098.0,236.0 1098.5,236.1 1099.0,236.1 1099.5,236.1 1100.0,236.1 1100.5,236.1 1101.0,236.0 1101.5,236.0 1102.0,236.0 1102.5,236.1 1103.0,236.1 1103.5,236.1 1104.0,236.2 1104.5,236.2 1105.0,236.2 1105.5,236.3 1106.0,236.3 1106.5,236.2 1107.0,236.2 1107.5,236.2 1108.0,236.1 1108.5,236.0 1109.0,236.0 1109.5,235.9 1110.0,235.9 1110.5,235.9 1111.0,235.9 1111.5,235.9 1112.0,236.0 1112.5,236.0 1113.0,236.1 1113.5,236.1 1114.0,236.2 1114.5,236.2 1115.0,236.2 1115.5,236.2 1116.0,236.2 1116.5,236.2 1117.0,236.2 1117.5,236.2 1118.0,236.2 1118.5,236.2 1119.0,236.2 1119.5,236.3 1120.0,236.3 1120.5,236.4 1121.0,236.4 1121.5,236.5 1122.0,236.5 1122.5,236.5 1123.0,236.4 1123.5,236.4 1124.0,236.3 1124.5,236.3 1125.0,236.2 1125.5,236.1 1126.0,236.0 1126.5,236.0 1127.0,236.0 1127.5,235.9 1128.0,235.9 1128.5,235.9 1129.0,236.0 1129.5,236.0 1130.0,236.0 1130.5,236.0 1131.0,235.9 1131.5,235.9 1132.0,235.9 1132.5,235.8 1133.0,235.8 1133.5,235.7 1134.0,235.7 1134.5,235.7 1135.0,235.7 1135.5,235.7 1136.0,235.8 1136.5,235.8 1137.0,235.9 1137.5,236.0 1138.0,236.0 1138.5,236.1 1139.0,236.1 1139.5,236.1 1140.0,236.1 1140.5,236.0 1141.0,236.0 1141.5,235.9 1142.0,235.9 1142.5,235.8 1143.0,235.8 1143.5,235.8 1144.0,235.8 1144.5,235.8 1145.0,235.8 1145.5,235.9 1146.0,235.9 1146.5,235.9 1147.0,235.9 1147.5,235.8 1148.0,235.8 1148.5,235.7 1149.0,235.7 1149.5,235.6 1150.0,235.6 1150.5,235.5 1151.0,235.5 1151.5,235.5 1152.0,235.6 1152.5,235.6 1153.0,235.7 1153.5,235.8 1154.0,235.8 1154.5,235.9 1155.0,236.0 1155.5,236.0 1156.0,236.0 1156.5,236.0 1157.0,236.0 1157.5,236.0 1158.0,236.0 1158.5,236.0 1159.0,236.0 1159.5,236.1 1160.0,236.1 1160.5,236.1 1161.0,236.2 1161.5,236.2 1162.0,236.3 1162.5,236.3 1163.0,236.3 1163.5,236.3 1164.0,236.3 1164.5,236.3 1165.0,236.2 1165.5,236.1 1166.0,236.1 1166.5,236.0 1167.0,236.0 1167.5,235.9 1168.0,235.9 1168.5,236.0 1169.0,236.0 1169.5,236.0 1170.0,236.1 1170.5,236.1 1171.0,236.1 1171.5,236.2 1172.0,236.2 1172.5,236.2 1173.0,236.2 1173.5,236.1 1174.0,236.1 1174.5,236.1 1175.0,236.1 1175.5,236.1 1176.0,236.1 1176.5,236.2 1177.0,236.2 1177.5,236.3 1178.0,236.4 1178.5,236.4 1179.0,236.4 1179.5,236.5 1180.0,236.5 1180.5,236.4 1181.0,236.4 1181.5,236.3 1182.0,236.3 1182.5,236.2 1183.0,236.1 1183.5,236.1 1184.0,236.0 1184.5,236.0 1185.0,236.0 1185.5,236.0 1186.0,236.0 1186.5,236.0 1187.0,236.0 1187.5,236.0 1188.0,236.0 1188.5,235.9 1189.0,235.9 1189.5,235.8 1190.0,235.8 1190.5,235.7 1191.0,235.7 1191.5,235.6 1192.0,235.6 1192.5,235.7 1193.0,235.7 1193.5,235.7 1194.0,235.8 1194.5,235.9 1195.0,235.9 1195.5,236.0 1196.0,236.0 1196.5,236.0 1197.0,236.0 1197.5,236.0 1198.0,236.0 1198.5,235.9 1199.0,235.9 1199.5,235.9 1200.0,235.8 1200.5,235.8 1201.0,235.8 1201.5,235.9 1202.0,235.9 1202.5,235.9 1203.0,235.9 1203.5,235.9 1204.0,235.9 1204.5,235.9 1205.0,235.9 1205.5,235.8 1206.0,235.7 1206.5,235.7 1207.0,235.6 1207.5,235.6 1208.0,235.6 1208.5,235.5 1209.0,235.6 1209.5,235.6 1210.0,235.7 1210.5,235.7 1211.0,235.8 1211.5,235.9 1212.0,235.9 1212.5,235.9 1213.0,236.0 1213.5,236.0 1214.0,236.0 1214.5,236.0 1215.0,236.0 1215.5,236.0 1216.0,236.0 1216.5,236.0 1217.0,236.1 1217.5,236.1 1218.0,236.2 1218.5,236.2 1219.0,236.3 1219.5,236.3 1220.0,236.4 1220.5,236.4 1221.0,236.4 1221.5,236.4 1222.0,236.3 1222.5,236.2 1223.0,236.2 1223.5,236.1 1224.0,236.1 1224.5,236.0 1225.0,236.0 1225.5,236.0 1226.0,236.0 1226.5,236.1 1227.0,236.1 1227.5,236.1 1228.0,236.1 1228.5,236.2 1229.0,236.2 1229.5,236.1 1230.0,236.1 1230.5,236.1 1231.0,236.1 1231.5,236.0 1232.0,236.0 1232.5,236.0 1233.0,236.0 1233.5,236.1 1234.0,236.1 1234.5,236.2 1235.0,236.3 1235.5,236.3 1236.0,236.4 1236.5,236.4 1237.0,236.4 1237.5,236.4 1238.0,236.4 1238.5,236.3 1239.0,236.3 1239.5,236.2 1240.0,236.2 1240.5,236.1 1241.0,236.1 1241.5,236.1 1242.0,236.0 1242.5,236.0 1243.0,236.1 1243.5,236.1 1244.0,236.1 1244.5,236.0 1245.0,236.0 1245.5,236.0 1246.0,235.9 1246.5,235.8 1247.0,235.8 1247.5,235.7 1248.0,235.7 1248.5,235.6 1249.0,235.6 1249.5,235.6 1250.0,235.6 1250.5,235.7 1251.0,235.7 1251.5,235.8 1252.0,235.8 1252.5,235.9 1253.0,235.9 1253.5,235.9 1254.0,235.9 1254.5,235.9 1255.0,235.9 1255.5,235.9 1256.0,235.9 1256.5,235.8 1257.0,235.8 1257.5,235.8 1258.0,235.9 1258.5,235.9 1259.0,235.9 1259.5,236.0 1260.0,236.0 1260.5,236.0 1261.0,236.0 1261.5,236.0 1262.0,236.0 1262.5,235.9 1263.0,235.8 1263.5,235.8 1264.0,235.7 1264.5,235.7 1265.0,235.6 1265.5,235.6 1266.0,235.6 1266.5,235.6 1267.0,235.7 1267.5,235.7 1268.0,235.8 1268.5,235.8 1269.0,235.9 1269.5,235.9 1270.0,235.9 1270.5,235.9 1271.0,235.9 1271.5,235.9 1272.0,235.9 1272.5,235.9 1273.0,235.9 1273.5,236.0 1274.0,236.0 1274.5,236.1 1275.0,236.1 1275.5,236.2 1276.0,236.3 1276.5,236.3 1277.0,236.4 1277.5,236.4 1278.0,236.4 1278.5,236.4 1279.0,236.4 1279.5,236.3 1280.0,236.3 1280.5,236.2 1281.0,236.2 1281.5,236.1 1282.0,236.1 1282.5,236.1 1283.0,236.1 1283.5,236.1 1284.0,236.1 1284.5,236.2 1285.0,236.2 1285.5,236.2 1286.0,236.2 1286.5,236.2 1287.0,236.1 1287.5,236.1 1288.0,236.0 1288.5,236.0 1289.0,236.0 1289.5,236.0 1290.0,236.0 1290.5,236.0 1291.0,236.0 1291.5,236.1 1292.0,236.2 1292.5,236.2 1293.0,236.3 1293.5,236.3 1294.0,236.4 1294.5,236.4 1295.0,236.4 1295.5,236.3 1296.0,236.3 1296.5,236.2 1297.0,236.2 1297.5,236.1 1298.0,236.1 1298.5,236.1 1299.0,236.1 1299.5,236.1 1300.0,236.1 1300.5,236.1 1301.0,236.1 1301.5,236.1 1302.0,236.1 1302.5,236.0 1303.0,236.0 1303.5,235.9 1304.0,235.8 1304.5,235.8 1305.0,235.7 1305.5,235.6 1306.0,235.6 1306.5,235.6 1307.0,235.6 1307.5,235.6 1308.0,235.6 1308.5,235.7 1309.0,235.7 1309.5,235.8 1310.0,235.8 1310.5,235.9 1311.0,235.9 1311.5,235.9 1312.0,235.9 1312.5,235.8 1313.0,235.8 1313.5,235.8 1314.0,235.8 1314.5,235.8 1315.0,235.8 1315.5,235.9 1316.0,235.9 1316.5,236.0 1317.0,236.0 1317.5,236.0 1318.0,236.1 1318.5,236.1 1319.0,236.0 1319.5,236.0 1320.0,236.0 1320.5,235.9 1321.0,235.8 1321.5,235.8 1322.0,235.7 1322.5,235.7 1323.0,235.7 1323.5,235.7 1324.0,235.7 1324.5,235.7 1325.0,235.8 1325.5,235.8 1326.0,235.9 1326.5,235.9 1327.0,235.9 1327.5,235.9 1328.0,235.9 1328.5,235.9 1329.0,235.9 1329.5,235.9 1330.0,235.9 1330.5,235.9 1331.0,235.9 1331.5,236.0 1332.0,236.0 1332.5,236.1 1333.0,236.2 1333.5,236.3 1334.0,236.4 1334.5,236.4 1335.0,236.4 1335.5,236.4 1336.0,236.4 1336.5,236.4 1337.0,236.3 1337.5,236.3 1338.0,236.2 1338.5,236.2 1339.0,236.2 1339.5,236.2 1340.0,236.2 1340.5,236.2 1341.0,236.2 1341.5,236.2 1342.0,236.2 1342.5,236.2 1343.0,236.2 1343.5,236.2 1344.0,236.2 1344.5,236.1 1345.0,236.1 1345.5,236.0 1346.0,236.0 1346.5,235.9 1347.0,235.9 1347.5,235.9 1348.0,236.0 1348.5,236.0 1349.0,236.1 1349.5,236.1 1350.0,236.2 1350.5,236.2 1351.0,236.3 1351.5,236.3 1352.0,236.3 1352.5,236.3 1353.0,236.3 1353.5,236.2 1354.0,236.2 1354.5,236.1 1355.0,236.1 1355.5,236.1 1356.0,236.1 1356.5,236.1 1357.0,236.1 1357.5,236.1 1358.0,236.2 1358.5,236.2 1359.0,236.1 1359.5,236.1 1360.0,236.1 1360.5,236.0 1361.0,235.9 1361.5,235.8 1362.0,235.7 1362.5,235.7 1363.0,235.6 1363.5,235.6 1364.0,235.6 1364.5,235.6 1365.0,235.6 1365.5,235.6 1366.0,235.7 1366.5,235.7 1367.0,235.8 1367.5,235.8 1368.0,235.8 1368.5,235.8 1369.0,235.8 1369.5,235.8 1370.0,235.7 1370.5,235.7 1371.0,235.7 1371.5,235.7 1372.0,235.8 1372.5,235.8 1373.0,235.9 1373.5,235.9 1374.0,236.0 1374.5,236.0 1375.0,236.1 1375.5,236.1 1376.0,236.1 1376.5,236.1 1377.0,236.0 1377.5,236.0 1378.0,235.9 1378.5,235.9 1379.0,235.8 1379.5,235.8 1380.0,235.7 1380.5,235.7 1381.0,235.7 1381.5,235.8 1382.0,235.8 1382.5,235.8 1383.0,235.9 1383.5,235.9 1384.0,235.9 1384.5,235.9 1385.0,235.9 1385.5,235.9 1386.0,235.8 1386.5,235.8 1387.0,235.8 1387.5,235.8 1388.0,235.8 1388.5,235.9 1389.0,235.9 1389.5,236.0 1390.0,236.1 1390.5,236.2 1391.0,236.3 1391.5,236.3 1392.0,236.4 1392.5,236.4 1393.0,236.4 1393.5,236.3 1394.0,236.3 1394.5,236.3 1395.0,236.2 1395.5,236.2 1396.0,236.1 1396.5,236.1 1397.0,236.0 1397.5,236.0 1398.0,236.0 1398.5,235.9 1399.0,235.8 1399.5,235.5 1400.0,235.2 1400.5,234.6 1401.0,233.5 1401.5,231.5 1402.0,227.4 1402.5,218.6 1403.0,202.3 1403.5,186.8 1404.0,183.9 1404.5,186.8 1405.0,202.2 1405.5,218.5 1406.0,227.3 1406.5,231.4 1407.0,233.4 1407.5,234.5 1408.0,235.1 1408.5,235.4 1409.0,235.7 1409.5,235.8 1410.0,235.9 1410.5,235.9 1411.0,235.9 1411.5,235.9 1412.0,236.0 1412.5,236.0 1413.0,236.0 1413.5,236.0 1414.0,236.1 1414.5,236.1 1415.0,236.1 1415.5,236.2 1416.0,236.2 1416.5,236.1 1417.0,236.1 1417.5,236.1 1418.0,236.0 1418.5,235.9 1419.0,235.8 1419.5,235.7 1420.0,235.7 1420.5,235.6 1421.0,235.6 1421.5,235.6 1422.0,235.6 1422.5,235.6 1423.0,235.7 1423.5,235.7 1424.0,235.7 1424.5,235.7 1425.0,235.7 1425.5,235.7 1426.0,235.7 1426.5,235.7 1427.0,235.7 1427.5,235.7 1428.0,235.7 1428.5,235.7 1429.0,235.7 1429.5,235.7 1430.0,235.8 1430.5,235.9 1431.0,235.9 1431.5,236.0 1432.0,236.1 1432.5,236.1 1433.0,236.1 1433.5,236.1 1434.0,236.1 1434.5,236.0 1435.0,236.0 1435.5,235.9 1436.0,235.9 1436.5,235.9 1437.0,235.8 1437.5,235.8 1438.0,235.8 1438.5,235.9 1439.0,235.9 1439.5,235.9 1440.0,235.9 1440.5,236.0 1441.0,236.0 1441.5,235.9 1442.0,235.9 1442.5,235.9 1443.0,235.9 1443.5,235.8 1444.0,235.8 1444.5,235.8 1445.0,235.8 1445.5,235.8 1446.0,235.9 1446.5,236.0 1447.0,236.0 1447.5,236.1 1448.0,236.2 1448.5,236.3 1449.0,236.3 1449.5,236.4 1450.0,236.4 1450.5,236.4 1451.0,236.4 1451.5,236.3 1452.0,236.3 1452.5,236.3 1453.0,236.3 1453.5,236.3 1454.0,236.3 1454.5,236.3 1455.0,236.3 1455.5,236.3 1456.0,236.4 1456.5,236.4 1457.0,236.4 1457.5,236.4 1458.0,236.3 1458.5,236.3 1459.0,236.2 1459.5,236.1 1460.0,236.0 1460.5,236.0 1461.0,235.9 1461.5,235.9 1462.0,235.9 1462.5,235.9 1463.0,235.9 1463.5,236.0 1464.0,236.0 1464.5,236.1 1465.0,236.1 1465.5,236.1 1466.0,236.1 1466.5,236.1 1467.0,236.1 1467.5,236.1 1468.0,236.0 1468.5,236.0 1469.0,236.0 1469.5,236.0 1470.0,236.0 1470.5,236.0 1471.0,236.1 1471.5,236.1 1472.0,236.1 1472.5,236.2 1473.0,236.2 1473.5,236.2 1474.0,236.2 1474.5,236.1 1475.0,236.1 1475.5,236.0 1476.0,235.9 1476.5,235.8 1477.0,235.7 1477.5,235.7 1478.0,235.6 1478.5,235.6 1479.0,235.6 1479.5,235.5 1480.0,235.5 1480.5,235.5 1481.0,235.5 1481.5,235.4 1482.0,235.3 1482.5,235.1 1483.0,234.8 1483.5,234.2 1484.0,233.2 1484.5,231.4 1485.0,227.6 1485.5,220.6 1486.0,212.6 1486.5,209.7 1487.0,209.9 1487.5,214.1 1488.0,222.5 1488.5,228.9 1489.0,232.2 1489.5,233.9 1490.0,234.8 1490.5,235.3 1491.0,235.5 1491.5,235.7 1492.0,235.7 1492.5,235.8 1493.0,235.8 1493.5,235.8 1494.0,235.8 1494.5,235.8 1495.0,235.8 1495.5,235.9 1496.0,235.9 1496.5,235.9 1497.0,236.0 1497.5,236.0 1498.0,236.0 1498.5,236.0 1499.0,235.9 1499.5,235.9 1500.0,235.8 1500.5,235.8 1501.0,235.7 1501.5,235.6 1502.0,235.6 1502.5,235.5 1503.0,235.4 1503.5,235.3 1504.0,235.1 1504.5,234.6 1505.0,233.8 1505.5,232.1 1506.0,228.5 1506.5,221.9 1507.0,214.2 1507.5,211.4 1508.0,211.5 1508.5,215.5 1509.0,223.5 1509.5,229.5 1510.0,232.6 1510.5,234.2 1511.0,235.0 1511.5,235.5 1512.0,235.8 1512.5,236.0 1513.0,236.1 1513.5,236.2 1514.0,236.3 1514.5,236.3 1515.0,236.3 1515.5,236.3 1516.0,236.2 1516.5,236.1 1517.0,236.1 1517.5,236.0 1518.0,235.9 1518.5,235.9 1519.0,235.9 1519.5,235.9 1520.0,235.9 1520.5,235.9 1521.0,235.9 1521.5,235.9 1522.0,235.9 1522.5,235.6 1523.0,235.0 1523.5,233.7 1524.0,233.3 1524.5,233.7 1525.0,234.9 1525.5,235.5 1526.0,235.7 1526.5,235.8 1527.0,235.9 1527.5,235.9 1528.0,236.0 1528.5,236.0 1529.0,236.1 1529.5,236.1 1530.0,236.2 1530.5,236.2 1531.0,236.2 1531.5,236.2 1532.0,236.1 1532.5,236.1 1533.0,236.0 1533.5,235.9 1534.0,235.8 1534.5,235.8 1535.0,235.7 1535.5,235.7 1536.0,235.7 1536.5,235.7 1537.0,235.7 1537.5,235.7 1538.0,235.7 1538.5,235.7 1539.0,235.7 1539.5,235.7 1540.0,235.7 1540.5,235.7 1541.0,235.6 1541.5,235.6 1542.0,235.5 1542.5,235.5 1543.0,235.5 1543.5,235.6 1544.0,235.6 1544.5,235.7 1545.0,235.7 1545.5,235.8 1546.0,235.9 1546.5,235.9 1547.0,235.9 1547.5,235.9 1548.0,235.7 1548.5,235.2 1549.0,233.7 1549.5,230.9 1550.0,230.0 1550.5,230.8 1551.0,233.6 1551.5,235.0 1552.0,235.6 1552.5,235.8 1553.0,235.9 1553.5,236.0 1554.0,236.0 1554.5,236.1 1555.0,236.1 1555.5,236.1 1556.0,236.1 1556.5,236.0 1557.0,236.0 1557.5,235.9 1558.0,235.9 1558.5,235.8 1559.0,235.8 1559.5,235.8 1560.0,235.8 1560.5,235.8 1561.0,235.9 1561.5,236.0 1562.0,236.0 1562.5,236.1 1563.0,236.1 1563.5,236.2 1564.0,236.2 1564.5,236.2 1565.0,236.2 1565.5,236.1 1566.0,236.1 1566.5,236.0 1567.0,236.0 1567.5,235.9 1568.0,235.7 1568.5,235.5 1569.0,235.0 1569.5,234.1 1570.0,232.0 1570.5,227.3 1571.0,216.9 1571.5,205.0 1572.0,202.5 1572.5,204.9 1573.0,216.8 1573.5,227.1 1574.0,231.8 1574.5,233.8 1575.0,234.7 1575.5,235.2 1576.0,235.4 1576.5,235.6 1577.0,235.7 1577.5,235.8 1578.0,235.8 1578.5,235.9 1579.0,235.9 1579.5,236.0 1580.0,236.0 1580.5,236.0 1581.0,235.9 1581.5,235.9 1582.0,235.9 1582.5,235.9 1583.0,235.8 1583.5,235.8 1584.0,235.8 1584.5,235.9 1585.0,235.9 1585.5,235.9 1586.0,236.0 1586.5,236.0 1587.0,236.1 1587.5,236.1 1588.0,236.1 1588.5,236.1 1589.0,236.1 1589.5,236.0 1590.0,235.9 1590.5,235.8 1591.0,235.7 1591.5,235.6 1592.0,235.4 1592.5,235.3 1593.0,235.0 1593.5,234.5 1594.0,233.5 1594.5,231.5 1595.0,226.7 1595.5,216.5 1596.0,204.8 1596.5,202.3 1597.0,204.7 1597.5,216.4 1598.0,226.6 1598.5,216.3 1599.0,204.5 1599.5,202.0 1600.0,204.5 1600.5,216.2 1601.0,226.5 1601.5,231.3 1602.0,233.4 1602.5,234.4 1603.0,235.0 1603.5,235.4 1604.0,235.6 1604.5,235.7 1605.0,235.8 1605.5,235.9 1606.0,235.9 1606.5,235.9 1607.0,235.9 1607.5,235.9 1608.0,235.9 1608.5,235.9 1609.0,236.0 1609.5,236.0 1610.0,236.0 1610.5,236.1 1611.0,236.1 1611.5,236.1 1612.0,236.2 1612.5,236.2 1613.0,236.1 1613.5,236.1 1614.0,236.0 1614.5,235.9 1615.0,235.9 1615.5,235.8 1616.0,235.7 1616.5,235.7 1617.0,235.6 1617.5,235.6 1618.0,235.5 1618.5,235.4 1619.0,235.3 1619.5,235.1 1620.0,234.7 1620.5,234.0 1621.0,232.7 1621.5,230.2 1622.0,224.8 1622.5,212.1 1623.0,184.9 1623.5,153.8 1624.0,147.2 1624.5,153.8 1625.0,185.0 1625.5,212.2 1626.0,224.8 1626.5,230.3 1627.0,232.9 1627.5,234.3 1628.0,235.1 1628.5,235.5 1629.0,235.8 1629.5,236.0 1630.0,236.0 1630.5,236.1 1631.0,236.1 1631.5,236.0 1632.0,236.0 1632.5,236.0 1633.0,235.9 1633.5,235.9 1634.0,235.9 1634.5,235.9 1635.0,235.9 1635.5,235.9 1636.0,235.9 1636.5,235.8 1637.0,235.8 1637.5,235.6 1638.0,235.4 1638.5,235.1 1639.0,234.6 1639.5,233.6 1640.0,231.5 1640.5,226.8 1641.0,216.8 1641.5,205.2 1642.0,202.8 1642.5,205.3 1643.0,216.9 1643.5,227.1 1644.0,231.8 1644.5,233.9 1645.0,234.8 1645.5,235.3 1646.0,235.6 1646.5,235.7 1647.0,235.8 1647.5,235.8 1648.0,235.8 1648.5,235.8 1649.0,235.8 1649.5,235.8 1650.0,235.8 1650.5,235.8 1651.0,235.8 1651.5,235.8 1652.0,235.8 1652.5,235.8 1653.0,235.8 1653.5,235.8 1654.0,235.8 1654.5,235.7 1655.0,235.7 1655.5,235.6 1656.0,235.6 1656.5,235.5 1657.0,235.5 1657.5,235.5 1658.0,235.5 1658.5,235.5 1659.0,235.6 1659.5,235.7 1660.0,235.7 1660.5,235.8 1661.0,235.9 1661.5,235.9 1662.0,236.0 1662.5,236.0 1663.0,236.0 1663.5,236.0 1664.0,236.0 1664.5,236.0 1665.0,236.0 1665.5,236.0 1666.0,236.0 1666.5,236.0 1667.0,236.1 1667.5,236.1 1668.0,236.2 1668.5,236.2 1669.0,236.3 1669.5,236.3 1670.0,236.3 1670.5,236.2 1671.0,236.2 1671.5,236.1 1672.0,236.1 1672.5,236.0 1673.0,236.0 1673.5,235.9 1674.0,235.9 1674.5,235.9 1675.0,235.9 1675.5,235.9 1676.0,236.0 1676.5,236.0 1677.0,236.1 1677.5,236.1 1678.0,236.1 1678.5,236.1 1679.0,236.1 1679.5,236.1 1680.0,236.1 1680.5,236.1 1681.0,236.0 1681.5,236.0 1682.0,236.0 1682.5,236.0 1683.0,236.0 1683.5,236.0 1684.0,236.0 1684.5,235.8 1685.0,235.6 1685.5,234.9 1686.0,233.5 1686.5,230.3 1687.0,223.2 1687.5,215.1 1688.0,213.4 1688.5,215.0 1689.0,223.0 1689.5,229.9 1690.0,233.2 1690.5,234.5 1691.0,235.2 1691.5,235.5 1692.0,235.7 1692.5,235.8 1693.0,235.9 1693.5,235.9 1694.0,235.9 1694.5,235.9 1695.0,235.9 1695.5,235.8 1696.0,235.7 1696.5,235.5 1697.0,235.1 1697.5,234.2 1698.0,231.7 1698.5,227.1 1699.0,225.7 1699.5,227.2 1700.0,231.8 1700.5,231.1 1701.0,224.6 1701.5,215.3 1702.0,213.0 1702.5,215.4 1703.0,224.7 1703.5,231.2 1704.0,233.8 1704.5,234.9 1705.0,235.3 1705.5,235.5 1706.0,235.6 1706.5,235.7 1707.0,235.7 1707.5,235.8 1708.0,235.8 1708.5,235.8 1709.0,235.9 1709.5,235.9 1710.0,235.9 1710.5,235.9 1711.0,235.9 1711.5,235.8 1712.0,235.7 1712.5,235.7 1713.0,235.6 1713.5,235.5 1714.0,235.5 1714.5,235.4 1715.0,235.4 1715.5,235.4 1716.0,235.3 1716.5,235.2 1717.0,234.9 1717.5,234.3 1718.0,232.4 1718.5,227.1 1719.0,217.0 1719.5,213.9 1720.0,217.0 1720.5,227.1 1721.0,218.1 1721.5,197.9 1722.0,174.8 1722.5,169.9 1723.0,174.9 1723.5,198.0 1724.0,218.2 1724.5,227.6 1725.0,231.7 1725.5,233.7 1726.0,234.7 1726.5,235.3 1727.0,235.6 1727.5,235.8 1728.0,235.9 1728.5,236.0 1729.0,236.0 1729.5,235.9 1730.0,235.9 1730.5,235.9 1731.0,235.9 1731.5,235.9 1732.0,235.9 1732.5,235.9 1733.0,236.0 1733.5,236.0 1734.0,236.1 1734.5,236.1 1735.0,236.1 1735.5,236.1 1736.0,236.1 1736.5,236.1 1737.0,236.1 1737.5,236.0 1738.0,236.0 1738.5,236.0 1739.0,236.0 1739.5,236.1 1740.0,236.1 1740.5,236.2 1741.0,236.2 1741.5,236.3 1742.0,236.4 1742.5,236.4 1743.0,236.4 1743.5,236.5 1744.0,236.5 1744.5,236.4 1745.0,236.4 1745.5,236.3 1746.0,236.3 1746.5,236.2 1747.0,236.1 1747.5,236.1 1748.0,236.1 1748.5,236.0 1749.0,236.0 1749.5,236.0 1750.0,235.9 1750.5,235.8 1751.0,235.4 1751.5,234.5 1752.0,232.0 1752.5,227.4 1753.0,225.9 1753.5,227.2 1754.0,231.8 1754.5,234.2 1755.0,235.0 1755.5,235.3 1756.0,235.5 1756.5,235.6 1757.0,235.6 1757.5,235.7 1758.0,235.8 1758.5,235.9 1759.0,235.9 1759.5,235.9 1760.0,236.0 1760.5,236.0 1761.0,236.0 1761.5,235.9 1762.0,235.9 1762.5,235.9 1763.0,235.9 1763.5,235.8 1764.0,235.8 1764.5,235.9 1765.0,235.9 1765.5,235.9 1766.0,236.0 1766.5,236.0 1767.0,236.0 1767.5,236.0 1768.0,236.0 1768.5,235.9 1769.0,235.9 1769.5,235.8 1770.0,235.7 1770.5,235.7 1771.0,235.6 1771.5,235.6 1772.0,235.5 1772.5,235.5 1773.0,235.6 1773.5,235.6 1774.0,235.6 1774.5,235.7 1775.0,235.7 1775.5,235.8 1776.0,235.8 1776.5,235.8 1777.0,235.8 1777.5,235.8 1778.0,235.7 1778.5,235.6 1779.0,235.5 1779.5,235.2 1780.0,234.6 1780.5,233.0 1781.0,228.4 1781.5,219.7 1782.0,217.1 1782.5,219.9 1783.0,228.7 1783.5,233.4 1784.0,234.5 1784.5,232.2 1785.0,226.5 1785.5,218.3 1786.0,216.3 1786.5,218.2 1787.0,226.3 1787.5,231.9 1788.0,234.2 1788.5,235.1 1789.0,235.5 1789.5,235.7 1790.0,235.9 1790.5,236.0 1791.0,236.0 1791.5,236.1 1792.0,236.1 1792.5,236.1 1793.0,236.1 1793.5,236.1 1794.0,236.0 1794.5,236.0 1795.0,236.0 1795.5,236.0 1796.0,236.0 1796.5,236.0 1797.0,236.0 1797.5,236.1 1798.0,236.1 1798.5,236.2 1799.0,236.3 1799.5,236.3 1800.0,236.4 1800.5,236.4 1801.0,236.4 1801.5,236.3 1802.0,236.2 1802.5,236.1 1803.0,235.8 1803.5,235.2 1804.0,233.4 1804.5,230.2 1805.0,229.2 1805.5,230.1 1806.0,233.4 1806.5,235.1 1807.0,235.7 1807.5,235.9 1808.0,236.0 1808.5,236.1 1809.0,236.0 1809.5,236.0 1810.0,235.9 1810.5,235.9 1811.0,235.8 1811.5,235.7 1812.0,235.7 1812.5,235.6 1813.0,235.6 1813.5,235.6 1814.0,235.6 1814.5,235.7 1815.0,235.7 1815.5,235.8 1816.0,235.8 1816.5,235.9 1817.0,235.9 1817.5,235.9 1818.0,235.9 1818.5,235.9 1819.0,235.9 1819.5,235.8 1820.0,235.8 1820.5,235.8 1821.0,235.8 1821.5,235.8 1822.0,235.9 1822.5,235.9 1823.0,236.0 1823.5,236.0 1824.0,236.0 1824.5,236.0 1825.0,236.0 1825.5,236.0 1826.0,236.0 1826.5,235.9 1827.0,235.8 1827.5,235.8 1828.0,235.7 1828.5,235.7 1829.0,235.6 1829.5,235.6 1830.0,235.6 1830.5,235.6 1831.0,235.7 1831.5,235.7 1832.0,235.8 1832.5,235.8 1833.0,235.8 1833.5,235.8 1834.0,235.7 1834.5,235.6 1835.0,235.2 1835.5,234.5 1836.0,234.3 1836.5,234.5 1837.0,235.2 1837.5,235.6 1838.0,235.8 1838.5,235.9 1839.0,236.1 1839.5,236.1 1840.0,236.2 1840.5,236.3 1841.0,236.3 1841.5,236.4 1842.0,236.4 1842.5,236.4 1843.0,236.3 1843.5,236.3 1844.0,236.2 1844.5,236.2 1845.0,236.2 1845.5,236.1 1846.0,236.1 1846.5,236.1 1847.0,236.2 1847.5,236.2 1848.0,236.2 1848.5,236.2 1849.0,236.2 1849.5,236.2 1850.0,236.2 1850.5,236.2 1851.0,236.1 1851.5,236.0 1852.0,236.0 1852.5,236.0 1853.0,235.9 1853.5,235.9 1854.0,236.0 1854.5,236.0 1855.0,236.0 1855.5,236.1 1856.0,236.2 1856.5,236.2 1857.0,236.3 1857.5,236.3 1858.0,236.3 1858.5,236.3 1859.0,236.3" fill="none" stroke="#FF3636" stroke-width="1.85" stroke-linejoin="round"/>
<path d="M693.5 218 V275" stroke="#333" stroke-width="1.8" stroke-dasharray="2.3 2.5"/>
<path d="M748.8 160 V273" stroke="#333" stroke-width="1.8" stroke-dasharray="2.3 2.5"/>
<path d="M1056 210 V275" stroke="#333" stroke-width="1.8" stroke-dasharray="2.3 2.5"/>
<path d="M1404.5 200 V275" stroke="#333" stroke-width="1.8" stroke-dasharray="2.3 2.5"/>
<path d="M1653.5 232 V275" stroke="#333" stroke-width="1.8" stroke-dasharray="2.3 2.5"/>
<path d="M755.6 131 L769.1 115.6" stroke="#333" stroke-width="1.4"/>
<path d="M1468.3 78 V50.5 H1823.2 V78" stroke="#333" stroke-width="1.9" fill="none"/>
<text transform="translate(443.99,318.40) scale(1.0878,1)" font-size="31.42" textLength="52.42" fill="#000"  >200</text>
<text transform="translate(648.93,318.40) scale(1.0793,1)" font-size="31.42" textLength="52.42" fill="#000"  >300</text>
<text transform="translate(853.94,318.40) scale(1.0692,1)" font-size="31.42" textLength="52.42" fill="#000"  >400</text>
<text transform="translate(1057.84,318.40) scale(1.0810,1)" font-size="31.42" textLength="52.42" fill="#000"  >500</text>
<text transform="translate(1261.99,318.40) scale(1.0878,1)" font-size="31.42" textLength="52.42" fill="#000"  >600</text>
<text transform="translate(1466.40,318.40) scale(1.0895,1)" font-size="31.42" textLength="52.42" fill="#000"  >700</text>
<text transform="translate(1671.25,318.40) scale(1.0827,1)" font-size="31.42" textLength="52.42" fill="#000"  >800</text>
<text transform="translate(1066.83,377.00) scale(1.1477,1)" font-size="29.82" textLength="225.93" fill="#000"  >Wavelength (nm)</text>
<text transform="translate(1633.73,38.10) scale(0.9926,1)" font-size="29.67" textLength="46.16" fill="#000"  >Ar I</text>
<text transform="translate(475.81,263.00) scale(0.9702,1)" font-size="27.93" textLength="114.81" fill="#222"  >(c) Ar/NH</text>
<text transform="translate(587.14,267.30) scale(1.1711,1)" font-size="13.53"  fill="#222"  >4</text>
<text transform="translate(595.90,263.00) scale(0.9808,1)" font-size="27.93" textLength="82.26" fill="#222"  >OH-28</text>
<g transform="translate(706.5,207.4) rotate(-90)"><text transform="translate(-1.09,0.00) scale(0.9006,1)" font-size="32.29" textLength="107.71" fill="#111"  stroke="#111" stroke-width="0.55">309 nm</text><text transform="translate(105.72,0.00) scale(0.9019,1)" font-size="32.29" textLength="48.44" fill="#111" stroke="#111" stroke-width="0.14" >OH</text></g>
<g transform="translate(800.7,198.9) rotate(-90)"><text transform="translate(-1.10,0.00) scale(0.9120,1)" font-size="32.29" textLength="107.71" fill="#111"  stroke="#111" stroke-width="0.55">336 nm</text><text transform="translate(104.55,0.00) scale(0.9581,1)" font-size="32.29" textLength="46.64" fill="#111"  >NH</text></g>
<g transform="translate(1064.8,195.9) rotate(-90)"><text transform="translate(-0.67,0.00) scale(0.9156,1)" font-size="32.29" textLength="134.64" fill="#111"  stroke="#111" stroke-width="0.55">486.1 nm</text><text transform="translate(130.47,0.00) scale(1.2110,1)" font-size="32.29"  fill="#111"  >H</text></g>
<g transform="translate(1415.2,170.8) rotate(-90)"><text transform="translate(-1.48,0.00) scale(0.9149,1)" font-size="32.29" textLength="134.64" fill="#111"  stroke="#111" stroke-width="0.55">656.3 nm</text><text transform="translate(129.42,0.00) scale(1.1943,1)" font-size="32.29"  fill="#111"  >H</text></g>
<g transform="translate(1670.7,217.4) rotate(-90)"><text transform="translate(-1.53,0.00) scale(0.9025,1)" font-size="32.29" textLength="134.64" fill="#111"  stroke="#111" stroke-width="0.55">777.4 nm</text><text transform="translate(129.60,0.00) scale(0.8485,1)" font-size="32.29"  fill="#111" stroke="#111" stroke-width="0.26" >O</text></g>
<g transform="translate(1071.6,39.0) rotate(-90)"><text transform="translate(-1.20,0.00) scale(0.8214,1)" font-size="20.95"  fill="#111" stroke="#111" stroke-width="0.20" >β</text></g>
<g transform="translate(1421.6,15.6) rotate(-90)"><text transform="translate(-0.77,0.00) scale(0.7418,1)" font-size="24.44"  fill="#111" stroke="#111" stroke-width="0.37" >α</text></g>
</g>
<circle cx="50.7" cy="856" r="37.6" fill="url(#gO)"/>
<circle cx="126.5" cy="856" r="37.6" fill="url(#gG)"/>
<circle cx="202.4" cy="856" r="37.6" fill="url(#gR)"/>
<circle cx="278.2" cy="856" r="37.6" fill="url(#gG)"/>
<circle cx="354.0" cy="856" r="37.6" fill="url(#gO)"/>
<circle cx="429.8" cy="856" r="37.6" fill="url(#gG)"/>
<circle cx="505.7" cy="856" r="37.6" fill="url(#gR)"/>
<circle cx="50.7" cy="932" r="37.6" fill="url(#gG)"/>
<circle cx="126.5" cy="932" r="37.6" fill="url(#gR)"/>
<circle cx="202.4" cy="932" r="37.6" fill="url(#gG)"/>
<circle cx="278.2" cy="932" r="37.6" fill="url(#gO)"/>
<circle cx="354.0" cy="932" r="37.6" fill="url(#gG)"/>
<circle cx="429.8" cy="932" r="37.6" fill="url(#gR)"/>
<circle cx="505.7" cy="932" r="37.6" fill="url(#gG)"/>
<circle cx="50.7" cy="1007.7" r="37.6" fill="url(#gO)"/>
<circle cx="126.5" cy="1007.7" r="37.6" fill="url(#gG)"/>
<circle cx="202.4" cy="1007.7" r="37.6" fill="url(#gR)"/>
<circle cx="278.2" cy="1007.7" r="37.6" fill="url(#gG)"/>
<circle cx="354.0" cy="1007.7" r="37.6" fill="url(#gO)"/>
<circle cx="429.8" cy="1007.7" r="37.6" fill="url(#gG)"/>
<circle cx="505.7" cy="1007.7" r="37.6" fill="url(#gR)"/>
<text transform="translate(332.42,872.60) scale(1.1761,1)" font-size="44.07"  fill="#fff"  >M</text>
<text transform="translate(417.77,872.60) scale(0.8071,1)" font-size="44.07"  fill="#fff" stroke="#fff" stroke-width="0.47" >C</text>
<text transform="translate(484.12,872.60) scale(1.1761,1)" font-size="44.07"  fill="#fff"  >M</text>
<circle cx="700.0" cy="856" r="37.6" fill="url(#gO)"/>
<circle cx="775.7" cy="856" r="37.6" fill="url(#gG)"/>
<circle cx="851.4" cy="856" r="37.6" fill="url(#gR)"/>
<circle cx="927.1" cy="856" r="37.6" fill="url(#gG)"/>
<circle cx="1002.8" cy="856" r="37.6" fill="url(#gO)"/>
<circle cx="1078.5" cy="856" r="37.6" fill="url(#gB)"/>
<circle cx="1154.2" cy="856" r="37.6" fill="url(#gR)"/>
<circle cx="700.0" cy="932" r="37.6" fill="url(#gG)"/>
<circle cx="775.7" cy="932" r="37.6" fill="url(#gR)"/>
<circle cx="851.4" cy="932" r="37.6" fill="url(#gG)"/>
<circle cx="927.1" cy="932" r="37.6" fill="url(#gO)"/>
<circle cx="1002.8" cy="932" r="37.6" fill="url(#gG)"/>
<circle cx="1078.5" cy="932" r="37.6" fill="url(#gR)"/>
<circle cx="1154.2" cy="932" r="37.6" fill="url(#gG)"/>
<circle cx="700.0" cy="1007.7" r="37.6" fill="url(#gO)"/>
<circle cx="775.7" cy="1007.7" r="37.6" fill="url(#gG)"/>
<circle cx="851.4" cy="1007.7" r="37.6" fill="url(#gR)"/>
<circle cx="927.1" cy="1007.7" r="37.6" fill="url(#gG)"/>
<circle cx="1002.8" cy="1007.7" r="37.6" fill="url(#gO)"/>
<circle cx="1078.5" cy="1007.7" r="37.6" fill="url(#gG)"/>
<circle cx="1154.2" cy="1007.7" r="37.6" fill="url(#gR)"/>
<circle cx="965" cy="793" r="37.6" fill="url(#gB)"/>
<circle cx="1113" cy="793" r="37.6" fill="url(#gG)"/>
<text transform="translate(678.42,872.60) scale(1.1761,1)" font-size="44.07"  fill="#fff"  >M</text>
<text transform="translate(763.77,872.60) scale(0.8071,1)" font-size="44.07"  fill="#fff" stroke="#fff" stroke-width="0.47" >C</text>
<text transform="translate(1063.64,872.60) scale(0.9646,1)" font-size="44.07"  fill="#fff"  >N</text>
<text transform="translate(1132.42,872.60) scale(1.1761,1)" font-size="44.07"  fill="#fff"  >M</text>
<text transform="translate(1100.77,809.60) scale(0.8071,1)" font-size="44.07"  fill="#fff" stroke="#fff" stroke-width="0.47" >C</text>
<circle cx="1354.0" cy="932" r="37.6" fill="url(#gG)"/>
<circle cx="1429.7" cy="932" r="37.6" fill="url(#gR)"/>
<circle cx="1505.4" cy="932" r="37.6" fill="url(#gG)"/>
<circle cx="1581.1" cy="932" r="37.6" fill="url(#gO)"/>
<circle cx="1656.8" cy="932" r="37.6" fill="url(#gG)"/>
<circle cx="1732.5" cy="932" r="37.6" fill="url(#gR)"/>
<circle cx="1808.2" cy="932" r="37.6" fill="url(#gG)"/>
<circle cx="1354.0" cy="1007.7" r="37.6" fill="url(#gO)"/>
<circle cx="1429.7" cy="1007.7" r="37.6" fill="url(#gG)"/>
<circle cx="1505.4" cy="1007.7" r="37.6" fill="url(#gR)"/>
<circle cx="1581.1" cy="1007.7" r="37.6" fill="url(#gG)"/>
<circle cx="1656.8" cy="1007.7" r="37.6" fill="url(#gO)"/>
<circle cx="1732.5" cy="1007.7" r="37.6" fill="url(#gG)"/>
<circle cx="1808.2" cy="1007.7" r="37.6" fill="url(#gR)"/>
<rect x="652.2" y="788.5" width="180.39999999999998" height="105.5" fill="none" stroke="#70FFD2" stroke-width="4.5" stroke-dasharray="19.9 15.9" stroke-dashoffset="0"/>
<rect x="1029.8" y="712.5" width="181.9000000000001" height="180.89999999999998" fill="none" stroke="#FFC000" stroke-width="4.5" stroke-dasharray="19.9 15.9" stroke-dashoffset="0"/>
<circle cx="746.2" cy="815.4" r="14.7" fill="url(#gT)"/>
<circle cx="776.4" cy="805" r="14.7" fill="url(#gT)"/>
<circle cx="807.2" cy="815.5" r="14.7" fill="url(#gT)"/>
<circle cx="981.5" cy="744" r="14.7" fill="url(#gT)"/>
<circle cx="1086.4" cy="751.6" r="14.7" fill="url(#gT)"/>
<circle cx="1116.5" cy="740.1" r="14.7" fill="url(#gT)"/>
<circle cx="1146.3" cy="751.6" r="14.7" fill="url(#gT)"/>
<circle cx="708" cy="531" r="15" fill="url(#gT)"/>
<circle cx="844" cy="547" r="15" fill="url(#gT)"/>
<circle cx="981" cy="571" r="15" fill="url(#gT)"/>
<circle cx="708" cy="682" r="15" fill="url(#gT)"/>
<circle cx="965" cy="682" r="15" fill="url(#gT)"/>
<circle cx="928" cy="534" r="37.6" fill="url(#gP)"/>
<circle cx="1033" cy="630" r="37.6" fill="url(#gP)"/>
<circle cx="791" cy="690" r="37.6" fill="url(#gP)"/>
<circle cx="826" cy="592.7" r="37.6" fill="url(#gB)"/>
<circle cx="844" cy="547" r="15" fill="url(#gT)"/>
<text transform="translate(810.94,609.10) scale(0.9646,1)" font-size="44.07"  fill="#fff"  >N</text>
<circle cx="1325" cy="690.5" r="37.6" fill="url(#gO)"/>
<circle cx="1400" cy="690.5" r="37.6" fill="url(#gG)"/>
<circle cx="1445" cy="659.3" r="15" fill="url(#gT)"/>
<circle cx="1456" cy="689" r="15" fill="url(#gT)"/>
<circle cx="1445" cy="719.3" r="15" fill="url(#gT)"/>
<circle cx="1567" cy="750" r="37.6" fill="url(#gR)"/>
<circle cx="1642.5" cy="750" r="37.6" fill="url(#gB)"/>
<circle cx="1718" cy="750" r="37.6" fill="url(#gG)"/>
<circle cx="1762.2" cy="719.6" r="15" fill="url(#gT)"/>
<circle cx="1773" cy="749.5" r="15" fill="url(#gT)"/>
<circle cx="1762.2" cy="780.3" r="15" fill="url(#gT)"/>
<rect x="1287.4" y="637" width="180.39999999999986" height="106.20000000000005" fill="none" stroke="#70FFD2" stroke-width="4.5" stroke-dasharray="19.9 15.9" stroke-dashoffset="0"/>
<rect x="1513.8" y="697.2" width="286.60000000000014" height="105.89999999999998" fill="none" stroke="#FFC000" stroke-width="4.5" stroke-dasharray="19.9 15.9" stroke-dashoffset="0"/>
<path d="M724.4 547.7 C724.4 570.0 735.9 592.3 747.3 592.3 C756.6 592.3 765.8 606.8 769.1 624.0" fill="none" stroke="#000" stroke-width="4.3" stroke-linecap="butt"/>
<polygon points="770.3,636.9 761.4,622.5 775.7,620.9" fill="#000"/>
<path d="M829.0 623.0 C829.0 645.2 840.2 667.5 851.5 667.5 C860.6 667.5 869.6 681.9 872.8 699.1" fill="none" stroke="#000" stroke-width="4.3" stroke-linecap="butt"/>
<polygon points="874.0,712.0 865.1,697.6 879.5,696.0" fill="#000"/>
<path d="M921.6 574.4 C921.6 598.2 914.0 622.0 906.3 622.0 C900.0 622.0 893.8 638.0 891.7 656.9" fill="none" stroke="#000" stroke-width="4.3" stroke-linecap="butt"/>
<polygon points="891.0,669.6 884.8,653.9 899.2,654.8" fill="#000"/>
<path d="M981.5 578.0 C981.5 601.6 974.0 625.3 966.5 625.3 C960.3 625.3 954.1 641.2 952.1 660.0" fill="none" stroke="#000" stroke-width="4.3" stroke-linecap="butt"/>
<polygon points="951.4,672.6 945.2,656.9 959.6,657.8" fill="#000"/>
<path d="M709.0 698.0 C709.0 716.5 728.0 735.0 747.0 735.0 C761.5 735.0 776.0 745.8 782.0 759.2" fill="none" stroke="#000" stroke-width="4.3" stroke-linecap="butt"/>
<polygon points="784.9,772.0 774.0,759.0 788.0,755.4" fill="#000"/>
<path d="M784.4 728.7 C784.4 747.2 803.4 765.7 822.4 765.7 C836.9 765.7 851.5 776.5 857.5 789.9" fill="none" stroke="#000" stroke-width="4.3" stroke-linecap="butt"/>
<polygon points="860.4,802.7 849.5,789.7 863.5,786.1" fill="#000"/>
<path d="M966.2 698.0 C966.2 716.5 950.9 735.0 935.6 735.0 C924.0 735.0 912.3 745.7 907.4 758.9" fill="none" stroke="#000" stroke-width="4.3" stroke-linecap="butt"/>
<polygon points="905.0,772.0 901.2,755.5 915.3,758.6" fill="#000"/>
<path d="M1042.5 668.8 C1042.5 691.1 1034.8 713.4 1027.2 713.4 C1021.0 713.4 1014.9 727.9 1012.7 745.1" fill="none" stroke="#000" stroke-width="4.3" stroke-linecap="butt"/>
<polygon points="1011.9,758.0 1005.9,742.2 1020.2,743.3" fill="#000"/>
<path d="M1500.0 864.0 C1500.0 834.1 1481.0 804.2 1461.9 804.2 C1445.4 804.2 1428.9 781.9 1424.8 756.5" fill="none" stroke="#000" stroke-width="4.3" stroke-linecap="butt"/>
<polygon points="1423.8,744.5 1432.6,759.0 1418.3,760.5" fill="#000"/>
<path d="M1619.0 893.0 C1619.0 870.9 1634.2 848.8 1649.3 848.8 C1661.5 848.8 1673.7 834.4 1678.0 817.3" fill="none" stroke="#000" stroke-width="4.3" stroke-linecap="butt"/>
<polygon points="1679.6,804.5 1684.4,820.7 1670.2,818.6" fill="#000"/>
<polygon points="561.50,905.10 606.80,905.10 606.80,879.52 650.90,932.10 606.80,984.68 606.80,959.10 561.50,959.10" fill="#fff" stroke="#000" stroke-width="4.6" stroke-linejoin="miter" stroke-miterlimit="10"/>
<polygon points="1211.50,905.40 1256.30,905.40 1256.30,879.05 1301.58,932.20 1256.30,985.35 1256.30,959.00 1211.50,959.00" fill="#fff" stroke="#000" stroke-width="4.6" stroke-linejoin="miter" stroke-miterlimit="10"/>
<text transform="translate(1385.70,541.00) scale(0.9927,1)" font-size="59.64" textLength="437.62" fill="#000"  >Volatile products</text>
<text transform="translate(1080.86,646.00) scale(1.0591,1)" font-size="53.82" textLength="53.82" fill="#000"  >Ar</text>
<text transform="translate(642.86,705.00) scale(0.9332,1)" font-size="53.82"  fill="#000"  >H</text>
<text transform="translate(106.69,954.00) scale(1.0544,1)" font-size="55.27" textLength="313.35" fill="#000"  filter="url(#halo)">Ternary alloy</text>
<text transform="translate(84.30,1031.00) scale(1.0702,1)" font-size="55.27" textLength="368.62" fill="#000"  filter="url(#halo)">(metal carbide)</text>
<text transform="translate(664.36,993.00) scale(1.0360,1)" font-size="56.73" textLength="513.97" fill="#000"  filter="url(#halo)">Surface modification</text>
<text transform="translate(1481.32,993.00) scale(1.0002,1)" font-size="56.73" textLength="189.22" fill="#000"  filter="url(#halo)">Etching</text>
<text transform="translate(1261.54,609.00) scale(1.0748,1)" font-size="54.84" textLength="143.14" fill="#000"  >M(CH</text>
<text transform="translate(1411.66,625.40) scale(1.1717,1)" font-size="30.55"  fill="#000"  >3</text>
<text transform="translate(1435.61,609.00) scale(0.9587,1)" font-size="54.84"  fill="#000"  >)</text>
<text transform="translate(1452.10,624.50) scale(1.3262,1)" font-size="29.09"  fill="#000"  >n</text>
<text transform="translate(1506.63,675.60) scale(1.0660,1)" font-size="54.25" textLength="216.94" fill="#000"  >M(N-(CH</text>
<text transform="translate(1734.51,691.80) scale(1.1303,1)" font-size="30.55"  fill="#000"  >3</text>
<text transform="translate(1758.44,675.60) scale(0.8917,1)" font-size="54.25"  fill="#000" stroke="#000" stroke-width="0.27" >)</text>
<text transform="translate(1775.00,691.80) scale(1.1800,1)" font-size="30.55"  fill="#000"  >2</text>
<text transform="translate(1799.33,675.60) scale(0.9198,1)" font-size="54.25"  fill="#000" stroke="#000" stroke-width="0.16" >)</text>
<text transform="translate(1815.89,691.00) scale(1.2774,1)" font-size="29.09"  fill="#000"  >n</text>
</svg></body></html>
